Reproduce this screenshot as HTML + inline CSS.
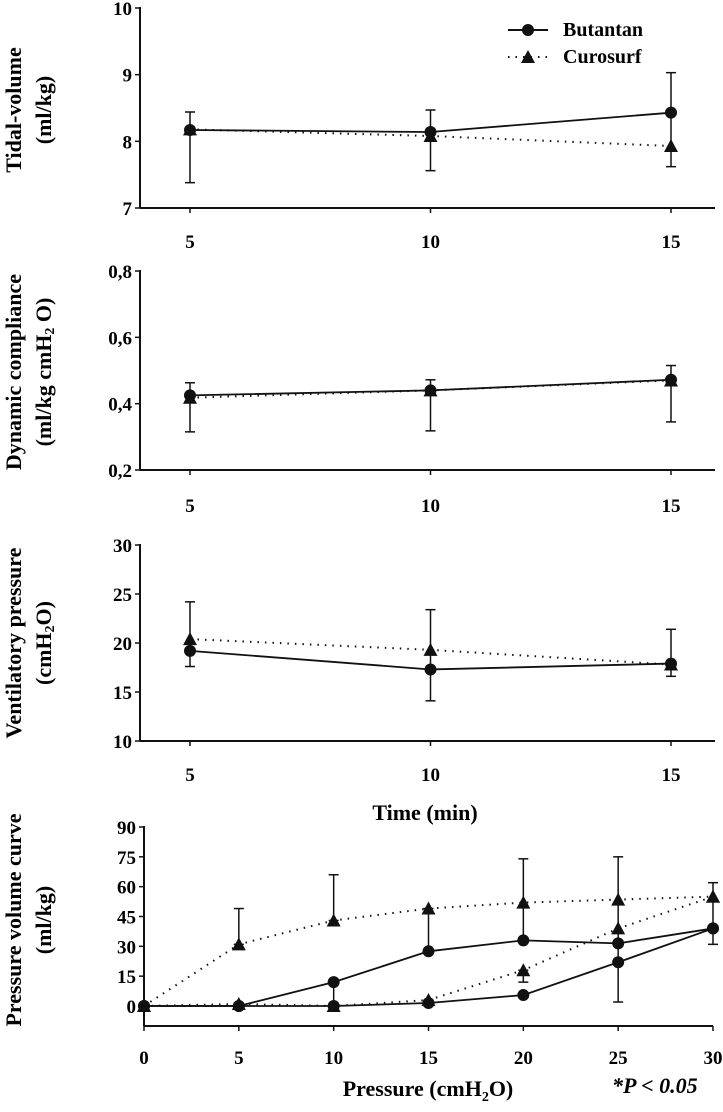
<!DOCTYPE html>
<html><head><meta charset="utf-8"><style>
body{margin:0;background:#fff}
svg{display:block}
.t{font-family:"Liberation Serif",serif;font-weight:bold;font-size:19px}
.l{font-family:"Liberation Serif",serif;font-size:22px;font-weight:bold}
</style></head><body>
<svg id="c" width="723" height="1112" viewBox="0 0 723 1112">
<g id="legend">
<line x1="508" y1="30" x2="548" y2="30" stroke="#111" stroke-width="2"/>
<circle cx="528" cy="30" r="6" fill="#111"/>
<text x="563" y="36" class="l" style="font-size:20px">Butantan</text>
<line x1="508" y1="57" x2="548" y2="57" stroke="#111" stroke-width="2" stroke-dasharray="1.5,6"/>
<polygon points="528,50 535,63 521,63" fill="#111"/>
<text x="563" y="63" class="l" style="font-size:20px">Curosurf</text>
</g>
</svg>
<script>
// Panel 1: tidal volume
const timeCats=[5,10,15];
const tvTicks=[7,8,9,10];
const tvButantan=[8.17,8.14,8.43];
const tvCurosurf=[8.18,8.08,7.93];
const tvErrLow=[7.38,7.56,7.62];
const tvErrHigh=[8.44,8.47,9.03];
// Panel 2: dynamic compliance
const dcTicks=[0.2,0.4,0.6,0.8];
const dcTickLabels=["0,2","0,4","0,6","0,8"];
const dcButantan=[0.425,0.44,0.472];
const dcCurosurf=[0.418,0.44,0.47];
const dcErrLow=[0.315,0.318,0.345];
const dcErrHigh=[0.463,0.472,0.515];
// Panel 3: ventilatory pressure
const vpTicks=[10,15,20,25,30];
const vpButantan=[19.2,17.3,17.9];
const vpCurosurf=[20.4,19.3,17.8];
const vpErrLow=[17.6,14.1,16.6];
const vpErrHigh=[24.2,23.4,21.4];
// Panel 4: pressure volume curve
const pvCats=[0,5,10,15,20,25,30];
const pvTicks=[0,15,30,45,60,75,90];
const pvButInfl=[0,0,12,27.5,33,31.5,39];
const pvButDefl=[0,0,0,1.5,5.5,22,39];
const pvCurInfl=[0,31,43,49,52,53.5,55];
const pvCurDefl=[0,1,0,3,18,39,55];
const pvErrX=[5,10,10,15,20,20,25,30];
const pvErrLow=[31,43,0,27.5,33,12,2,31];
const pvErrHigh=[49,66,12,49,74,18,75,62];

const svg=document.getElementById('c');
const NS='http://www.w3.org/2000/svg';
function mk(tag,attrs,parent){const e=document.createElementNS(NS,tag);for(const k in attrs)e.setAttribute(k,attrs[k]);(parent||svg).appendChild(e);return e;}
function scale(d0,d1,r0,r1){return v=>r0+(v-d0)*(r1-r0)/(d1-d0);}

function panel(o){
  const g=mk('g',{});
  
  
  const x=scale(o.xd[0],o.xd[1],o.xr[0],o.xr[1]);
  const y=scale(o.yd[0],o.yd[1],o.yr[0],o.yr[1]);
  const ya=mk('line',{x1:o.axX,y1:o.yr[1]-1,x2:o.axX,y2:o.axY,stroke:'#111','stroke-width':2},g);
  
  const xa=mk('line',{x1:o.axX,y1:o.axY,x2:o.axEnd,y2:o.axY,stroke:'#111','stroke-width':2},g);
  
  o.yt.forEach((v,i)=>{
    mk('line',{x1:o.axX-5,y1:y(v),x2:o.axX,y2:y(v),stroke:'#111','stroke-width':1.5},g);
    const t=mk('text',{x:o.axX-8,y:y(v)+7,'text-anchor':'end',class:'t'},g);
    t.textContent=o.ytl?o.ytl[i]:v;
    
  });
  o.xt.forEach(v=>{
    mk('line',{x1:x(v),y1:o.axY,x2:x(v),y2:o.axY+5,stroke:'#111','stroke-width':1.5},g);
    const t=mk('text',{x:x(v),y:o.xlY,'text-anchor':'middle',class:'t'},g);
    t.textContent=v;
    
  });
  o.ex.forEach((xv,i)=>{
    const X=x(xv);
    const e=mk('line',{x1:X,y1:y(o.el[i]),x2:X,y2:y(o.eh[i]),stroke:'#111','stroke-width':1.5},g);
    
    [o.el[i],o.eh[i]].forEach(v=>mk('line',{x1:X-5,y1:y(v),x2:X+5,y2:y(v),stroke:'#111','stroke-width':1.5},g));
  });
  o.series.forEach(s=>{
    const pts=s.xs.map((xv,i)=>x(xv)+','+y(s.v[i])).join(' ');
    const pl=mk('polyline',{points:pts,fill:'none',stroke:'#111','stroke-width':s.dot?2:1.8,'stroke-dasharray':s.dot?'1.5,6':'none'},g);
    
    s.xs.forEach((xv,i)=>{
      const X=x(xv),Y=y(s.v[i]);
      let m;
      if(s.dot) m=mk('polygon',{points:`${X},${Y-7} ${X+7},${Y+6} ${X-7},${Y+6}`,fill:'#111'},g);
      else m=mk('circle',{cx:X,cy:Y,r:6,fill:'#111'},g);
      
    });
  });
  o.title.forEach((line,i)=>{
    const tx=16+i*30, ty=o.titleY;
    const t=mk('text',{x:tx,y:ty,transform:`rotate(-90 ${tx} ${ty})`,'text-anchor':'middle',class:'l','dominant-baseline':'middle'},g);
    t.innerHTML=line;
    
  });
}
panel({name:'tidal-volume-panel',xd:[5,15],xr:[190,671],yd:[7,10],yr:[208,8],axX:140,axY:208,axEnd:715,xlY:248,
  yt:tvTicks,xt:timeCats,ex:timeCats,el:tvErrLow,eh:tvErrHigh,
  series:[{name:'curosurf',xs:timeCats,v:tvCurosurf,dot:true},{name:'butantan',xs:timeCats,v:tvButantan}],
  title:['Tidal-volume','(ml/kg)'],titleY:110});
panel({name:'dynamic-compliance-panel',xd:[5,15],xr:[190,671],yd:[0.2,0.8],yr:[470,271],axX:140,axY:470,axEnd:715,xlY:512,
  yt:dcTicks,ytl:dcTickLabels,xt:timeCats,ex:timeCats,el:dcErrLow,eh:dcErrHigh,
  series:[{name:'curosurf',xs:timeCats,v:dcCurosurf,dot:true},{name:'butantan',xs:timeCats,v:dcButantan}],
  title:['Dynamic compliance','(ml/kg cmH<tspan font-size="14" dy="5">2</tspan><tspan dy="-5"> O)</tspan>'],titleY:372});
panel({name:'ventilatory-pressure-panel',xd:[5,15],xr:[190,671],yd:[10,30],yr:[741,545],axX:140,axY:741,axEnd:715,xlY:781,
  yt:vpTicks,xt:timeCats,ex:timeCats,el:vpErrLow,eh:vpErrHigh,
  series:[{name:'curosurf',xs:timeCats,v:vpCurosurf,dot:true},{name:'butantan',xs:timeCats,v:vpButantan}],
  title:['Ventilatory pressure','(cmH<tspan font-size="14" dy="5">2</tspan><tspan dy="-5">O)</tspan>'],titleY:643});
panel({name:'pressure-volume-panel',xd:[0,30],xr:[144,713],yd:[0,90],yr:[1006,827],axX:144,axY:1026,axEnd:713,xlY:1064,
  yt:pvTicks,xt:pvCats,ex:pvErrX,el:pvErrLow,eh:pvErrHigh,
  series:[{name:'curosurf-inflation',xs:pvCats,v:pvCurInfl,dot:true},{name:'curosurf-deflation',xs:pvCats,v:pvCurDefl,dot:true},
          {name:'butantan-inflation',xs:pvCats,v:pvButInfl},{name:'butantan-deflation',xs:pvCats,v:pvButDefl}],
  title:['Pressure volume curve','(ml/kg)'],titleY:920});
const t1=mk('text',{x:425,y:820,'text-anchor':'middle',class:'l'});
t1.textContent='Time (min)';

const t2=mk('text',{x:428,y:1096,'text-anchor':'middle',class:'l'});
t2.innerHTML='Pressure (cmH<tspan font-size="14" dy="5">2</tspan><tspan dy="-5">O)</tspan>';

const t3=mk('text',{x:612,y:1093,class:'l','font-style':'italic','font-size':'18'});
t3.textContent='*P < 0.05';

</script>
</body></html>
